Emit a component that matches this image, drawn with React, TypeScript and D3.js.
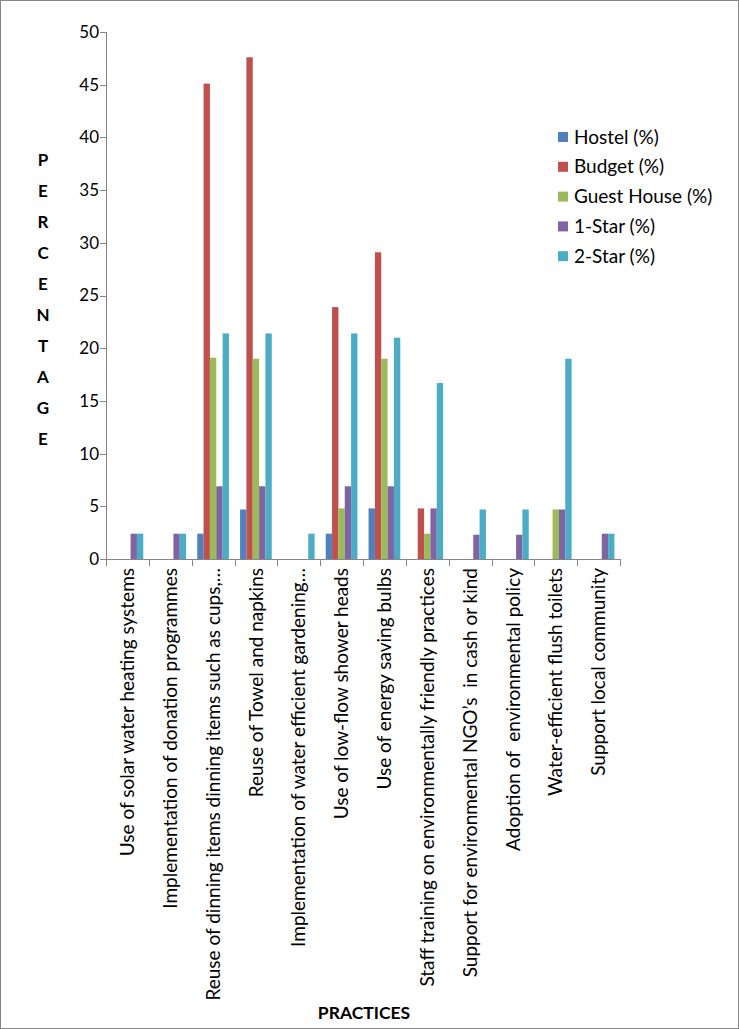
import React, { useRef, useEffect } from 'react';
import * as d3 from 'd3';

const practices = [
  'Use of solar water heating systems',
  'Implementation of donation programmes',
  'Reuse of dinning items dinning items such as cups,…',
  'Reuse of Towel and napkins',
  'Implementation of water efficient gardening…',
  'Use of low-flow shower heads',
  'Use of energy saving bulbs',
  'Staff training on environmentally friendly practices',
  'Support for environmental NGO’s  in cash or kind',
  'Adoption of  environmental policy',
  'Water-efficient flush toilets',
  'Support local community',
];

const seriesNames = ['Hostel (%)', 'Budget (%)', 'Guest House (%)', '1-Star (%)', '2-Star (%)'];
const seriesColors = ['#4F81BD', '#C0504D', '#9BBB59', '#8064A2', '#4BACC6'];

const hostel = [0, 0, 2.4, 4.7, 0, 2.4, 4.8, 0, 0, 0, 0, 0];
const budget = [0, 0, 45.1, 47.6, 0, 23.9, 29.1, 4.8, 0, 0, 0, 0];
const guestHouse = [0, 0, 19.1, 19.0, 0, 4.8, 19.0, 2.4, 0, 0, 4.7, 0];
const oneStar = [2.4, 2.4, 6.9, 6.9, 0, 6.9, 6.9, 4.8, 2.3, 2.3, 4.7, 2.4];
const twoStar = [2.4, 2.4, 21.4, 21.4, 2.4, 21.4, 21.0, 16.7, 4.7, 4.7, 19.0, 2.4];

const yTicks = [0, 5, 10, 15, 20, 25, 30, 35, 40, 45, 50];

const App = () => {
  const svgRef = useRef(null);

  useEffect(() => {
    const width = 739;
    const height = 1029;
    const left = 106;
    const right = 620;
    const top = 32;
    const bottom = 559;
    const font = 'Lato, "Open Sans", sans-serif';

    const svg = d3.select(svgRef.current)
      .attr('width', width)
      .attr('height', height);
    svg.selectAll('*').remove();

    // chart border
    svg.append('rect')
      .attr('x', 0.5).attr('y', 0.5)
      .attr('width', width - 1).attr('height', height - 1)
      .attr('fill', '#fff')
      .attr('stroke', '#868686');

    const values = [hostel, budget, guestHouse, oneStar, twoStar];

    const x0 = d3.scaleBand().domain(practices).range([left, right]).padding(0);
    const bw = x0.bandwidth();
    const x1 = d3.scaleBand()
      .domain(seriesNames)
      .range([bw * 0.13, bw * 0.87])
      .padding(0);
    const y = d3.scaleLinear().domain([0, 50]).range([bottom, top]);

    // bars
    const g = svg.append('g');
    practices.forEach((p, i) => {
      seriesNames.forEach((s, j) => {
        const v = values[j][i];
        if (!v) return;
        g.append('rect')
          .attr('x', x0(p) + x1(s))
          .attr('y', y(v))
          .attr('width', x1.bandwidth())
          .attr('height', y(0) - y(v))
          .attr('fill', seriesColors[j]);
      });
    });

    // y axis
    svg.append('line')
      .attr('x1', left + 0.5).attr('x2', left + 0.5)
      .attr('y1', top).attr('y2', bottom)
      .attr('stroke', '#868686');
    svg.append('g').selectAll('line')
      .data(yTicks)
      .enter()
      .append('line')
      .attr('x1', left - 6).attr('x2', left)
      .attr('y1', d => Math.round(y(d)) + 0.5)
      .attr('y2', d => Math.round(y(d)) + 0.5)
      .attr('stroke', '#868686');
    svg.append('g').selectAll('text')
      .data(yTicks)
      .enter()
      .append('text')
      .attr('x', left - 7)
      .attr('y', d => y(d))
      .attr('dy', '0.35em')
      .attr('text-anchor', 'end')
      .style('font-family', font)
      .style('font-size', '17px')
      .text(d => d);

    // x axis
    svg.append('line')
      .attr('x1', left).attr('x2', right)
      .attr('y1', bottom + 0.5).attr('y2', bottom + 0.5)
      .attr('stroke', '#868686');
    const bounds = practices.map(p => x0(p)).concat([right]);
    svg.append('g').selectAll('line')
      .data(bounds)
      .enter()
      .append('line')
      .attr('x1', d => Math.round(d) + 0.5).attr('x2', d => Math.round(d) + 0.5)
      .attr('y1', bottom).attr('y2', bottom + 7)
      .attr('stroke', '#868686');

    // category labels
    svg.append('g').selectAll('text')
      .data(practices)
      .enter()
      .append('text')
      .attr('transform', d => `translate(${x0(d) + bw / 2},${bottom + 9}) rotate(-90)`)
      .attr('dy', '0.35em')
      .attr('text-anchor', 'end')
      .style('font-family', font)
      .style('font-size', '19px')
      .style('white-space', 'pre')
      .text(d => d);

    // axis titles
    svg.append('g').selectAll('text')
      .data('PERCENTAGE'.split(''))
      .enter()
      .append('text')
      .attr('x', 43)
      .attr('y', (d, i) => 166 + i * 31)
      .attr('text-anchor', 'middle')
      .style('font-family', font)
      .style('font-size', '17px')
      .style('font-weight', 'bold')
      .text(d => d);

    svg.append('text')
      .attr('x', 364)
      .attr('y', 1019)
      .attr('text-anchor', 'middle')
      .style('font-family', font)
      .style('font-size', '17.5px')
      .style('font-weight', 'bold')
      .text('PRACTICES');

    // legend
    const legend = svg.append('g');
    seriesNames.forEach((s, i) => {
      const ly = 137 + i * 29.8;
      legend.append('rect')
        .attr('x', 558).attr('y', ly - 5)
        .attr('width', 10).attr('height', 10)
        .attr('fill', seriesColors[i]);
      legend.append('text')
        .attr('x', 574).attr('y', ly)
        .attr('dy', '0.35em')
        .style('font-family', font)
        .style('font-size', '19px')
        .text(s);
    });
  }, []);

  return <svg ref={svgRef} style={{ position: 'absolute', left: 0, top: 0 }}></svg>;
};

export default App;
